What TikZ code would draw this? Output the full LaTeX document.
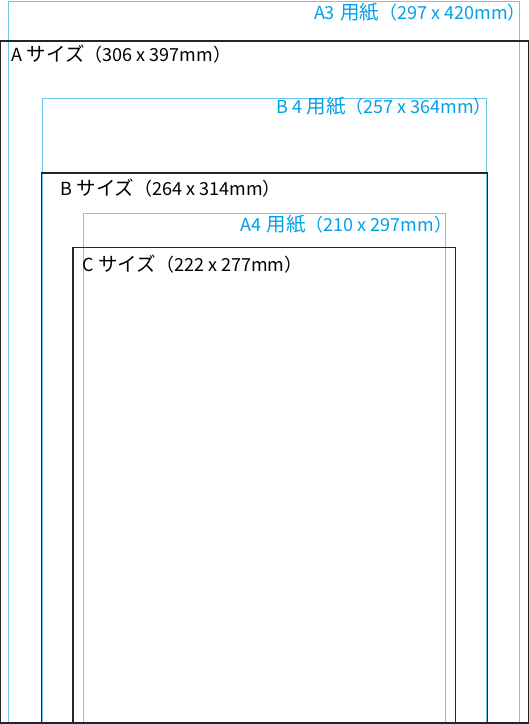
\documentclass[tikz,border=0pt]{standalone}
\usepackage{fontspec}
\setmainfont{Noto Sans CJK JP}
\usepackage{tikz}
\usetikzlibrary{calc}
\definecolor{papercyan}{RGB}{0,160,233}
\definecolor{paperline}{RGB}{110,200,240}
\newcommand{\kana}[1]{{\fontsize{19.5}{20}\selectfont #1}}
\newcommand{\closeparen}{\makebox[0.45em][l]{）}}

\begin{document}
\begin{tikzpicture}[x=1pt,y=1pt,inner sep=0pt,outer sep=0pt,
    every node/.style={font=\fontsize{18}{20}\selectfont, anchor=base west},
    blackbox/.style={draw=black!85,line width=1.3pt},
    bluebox/.style={draw=paperline,line width=0.9pt}]
    \useasboundingbox (0,0) rectangle (529,-724);

    % A3 paper
    \coordinate (a3_nw) at (8.8,-1.7);
    \coordinate (a3_se) at (519.6,-723);
    \draw[bluebox] (a3_nw) rectangle (a3_se);
    \node[text=papercyan] (a3_cap) at ($(a3_nw) + (305.2pt, -17.3pt)$)
    {A3\hspace{5.5pt}\kana{用紙}（297 x 420mm\closeparen};

    % A size
    \coordinate (sa_nw) at (0.6,-41);
    \coordinate (sa_se) at (528.2,-723);
    \draw[blackbox] (sa_nw) rectangle (sa_se);
    \node (sa_cap) at ($(sa_nw) + (11.4pt, -20pt)$)
    {A \kana{サイズ}（306 x 397mm\closeparen};

    % B4 paper
    \coordinate (b4_nw) at (42.8,-98.5);
    \coordinate (b4_se) at (486.2,-723);
    \draw[bluebox] (b4_nw) rectangle (b4_se);
    \node[text=papercyan] (b4_cap) at ($(b4_nw) + (233.9pt, -15pt)$)
    {B 4 \kana{用紙}（257 x 364mm\closeparen};

    % B size
    \coordinate (sb_nw) at (41.2,-173);
    \coordinate (sb_se) at (487.5,-723);
    \draw[blackbox] (sb_nw) rectangle (sb_se);
    \node (sb_cap) at ($(sb_nw) + (19.5pt, -22.4pt)$)
    {B \kana{サイズ}（264 x 314mm\closeparen};

    % A4 paper
    \coordinate (a4_nw) at (83.3,-213);
    \coordinate (a4_se) at (445.3,-723);
    \draw[bluebox] (a4_nw) rectangle (a4_se);
    \node[text=papercyan] (a4_cap) at ($(a4_nw) + (157.2pt, -18.5pt)$)
    {A4\hspace{5.5pt}\kana{用紙}（210 x 297mm\closeparen};

    % C size
    \coordinate (sc_nw) at (72.9,-247.7);
    \coordinate (sc_se) at (455.5,-723);
    \draw[blackbox] (sc_nw) rectangle (sc_se);
    \node (sc_cap) at ($(sc_nw) + (9.8pt, -23.3pt)$)
    {C \kana{サイズ}（222 x 277mm\closeparen};

\end{tikzpicture}
\end{document}
